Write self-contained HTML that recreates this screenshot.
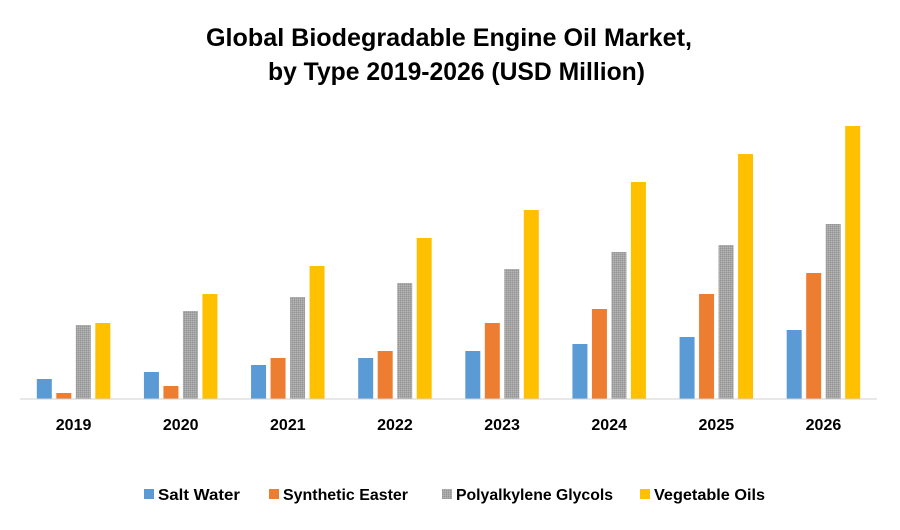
<!DOCTYPE html>
<html><head><meta charset="utf-8"><style>
body{margin:0;background:#fff;font-family:"Liberation Sans",sans-serif}
svg text{font-family:"Liberation Sans",sans-serif;font-weight:bold;fill:#000}
</style></head><body>
<svg width="900" height="525">
<defs><pattern id="gp" width="2" height="2" patternUnits="userSpaceOnUse"><rect width="2" height="2" fill="#a5a5a5"/><rect width="1" height="1" fill="#959595"/><rect x="1" y="1" width="1" height="1" fill="#b5b5b5"/></pattern></defs>
<text x="206" y="46" font-size="25" textLength="486" lengthAdjust="spacingAndGlyphs">Global Biodegradable Engine Oil Market,</text>
<text x="268" y="80" font-size="25" textLength="377" lengthAdjust="spacingAndGlyphs">by Type 2019-2026 (USD Million)</text>
<g id="bars"></g>
<line x1="20" y1="399" x2="877" y2="399" stroke="#d0d0d0" stroke-width="1"/>
<g id="xlabels"></g>
<g id="legend"></g>
</svg>
<script>
const categories=["2019","2020","2021","2022","2023","2024","2025","2026"];
const seriesNames=["Salt Water","Synthetic Easter","Polyalkylene Glycols","Vegetable Oils"];
const saltWater=[20,27,34,41,48,55,62,69];
const syntheticEaster=[6,13,41,48,76,90,105,126];
const polyGlycols=[74,88,102,116,130,147,154,175];
const vegetableOils=[76,105,133,161,189,217,245,273];
const series=[saltWater,syntheticEaster,polyGlycols,vegetableOils];
const colors=["#5b9bd5","#ed7d31","url(#gp)","#ffc000"];
const NS="http://www.w3.org/2000/svg";
const base=399,top0=99,maxV=300,x0=20,x1=877;
const step=(x1-x0)/categories.length;
const y=v=>base-(v/maxV)*(base-top0);
const bw=15,gap=19.5;
const bars=document.getElementById('bars');
categories.forEach((c,i)=>{
 const cx=x0+step*(i+0.5);
 series.forEach((s,j)=>{
  const r=document.createElementNS(NS,'rect');
  const bx=cx+(j-1.5)*gap-bw/2;
  r.setAttribute('x',bx);r.setAttribute('y',y(s[i]));
  r.setAttribute('width',bw);r.setAttribute('height',base-y(s[i]));
  r.setAttribute('fill',colors[j]);
  
  
  bars.appendChild(r);
 });
 const t=document.createElementNS(NS,'text');
 t.setAttribute('x',cx);t.setAttribute('y',430);t.setAttribute('text-anchor','middle');t.setAttribute('font-size','16');
 t.textContent=c;
 
 
 document.getElementById('xlabels').appendChild(t);
});
const lx=[144,269,442,640];
const lw=[82,125,157,111];
const lg=document.getElementById('legend');
seriesNames.forEach((n,j)=>{
 const g=document.createElementNS(NS,'g');
 
 
 const r=document.createElementNS(NS,'rect');
 r.setAttribute('x',lx[j]);r.setAttribute('y',489);r.setAttribute('width',10);r.setAttribute('height',10);r.setAttribute('fill',colors[j]);
 const t=document.createElementNS(NS,'text');
 t.setAttribute('x',lx[j]+14);t.setAttribute('y',500);t.setAttribute('font-size','16');t.textContent=n;
 t.setAttribute('textLength',lw[j]);t.setAttribute('lengthAdjust','spacingAndGlyphs');
 g.appendChild(r);g.appendChild(t);lg.appendChild(g);
});
</script>
</body></html>
